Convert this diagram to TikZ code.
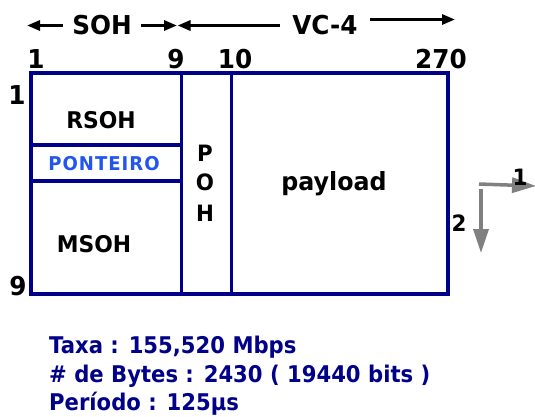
\documentclass[tikz,border=0pt]{standalone}
\usepackage{fontspec}
\setmainfont{DejaVu Sans}
\newfontfamily\infofont{DejaVu Sans}[FakeStretch=0.92]
\newfontfamily\lblfont{DejaVu Sans}[FakeStretch=0.95]
\usetikzlibrary{arrows.meta}
\definecolor{frame}{RGB}{0,0,136}
\definecolor{ptr}{RGB}{34,85,238}
\definecolor{arrgray}{RGB}{128,128,128}
\tikzset{
  frameline/.style={draw=frame,line width=3.4pt},
  lbl/.style={font=\lblfont\bfseries\fontsize{23}{26}\selectfont,text=black,inner sep=0pt,anchor=base},
  hdr/.style={font=\lblfont\bfseries\fontsize{26}{30}\selectfont,text=black,inner sep=0pt,anchor=base},
  small/.style={font=\lblfont\bfseries\fontsize{22.5}{25}\selectfont,text=black,inner sep=0pt,anchor=base},
  toparrow/.style={line width=3pt,-{Triangle[length=13pt,width=10pt]}},
  grayarrow/.style={draw=arrgray,line width=3.5pt,-{Triangle[length=24pt,width=15pt]}},
  info/.style={font=\infofont\bfseries\fontsize{23}{26}\selectfont,text=frame,inner sep=0pt,anchor=base west}
}
\begin{document}
\begin{tikzpicture}[x=1pt,y=-1pt]
\useasboundingbox (0,0) rectangle (535,416);
% frame
\draw[frameline] (31,73) rectangle (448,294);
\draw[frameline] (181.5,73) -- (181.5,294);
\draw[frameline] (231.5,73) -- (231.5,294);
\draw[frameline] (31,145) -- (181.5,145);
\draw[frameline] (31,181) -- (181.5,181);
% cell labels
\node[lbl] (rsoh) at (101,128) {RSOH};
\node[font=\lblfont\bfseries\fontsize{19}{22}\selectfont,text=ptr,inner sep=0pt,anchor=base] (ptr) at (104,170.5) {P\kern1ptO\kern1ptN\kern1ptT\kern1ptE\kern1ptI\kern1ptR\kern1ptO};
\node[lbl] (msoh) at (94,252) {MSOH};
\node[small] (p) at (205,161) {P};
\node[small] (o) at (205,190) {O};
\node[small] (h) at (205,221) {H};
\node[lbl,font=\lblfont\bfseries\fontsize{25}{28}\selectfont] (pay) at (334,190) {payload};
% column/row numbers
\node[hdr] (c1) at (36,68.5) {1};
\node[hdr] (c9) at (176,68.5) {9};
\node[hdr] (c10) at (235,68.5) {10};
\node[hdr] (c270) at (441,68.5) {270};
\node[hdr] (r1) at (17,104) {1};
\node[hdr] (r9) at (18,295) {9};
% header arrows
\node[hdr] (soh) at (102,34) {SOH};
\node[hdr] (vc4) at (325,34) {VC-4};
\coordinate (sl) at (27,25.5);
\coordinate (sr) at (177,25.5);
\coordinate (vl) at (177.5,25.5);
\coordinate (vr) at (455,19.5);
\coordinate (a1) at (63,25.5);
\coordinate (a2) at (141,25.5);
\coordinate (a3) at (280,25.5);
\coordinate (a4) at (370,19.5);
\draw[toparrow] (a1) -- (sl);
\draw[toparrow] (a2) -- (sr);
\draw[toparrow] (a3) -- (vl);
\draw[toparrow] (a4) -- (vr);
% gray direction arrows
\coordinate (gh) at (479,184);
\coordinate (gr) at (536,186);
\coordinate (gv) at (481,189);
\coordinate (gd) at (481,253);
\draw[grayarrow] (gh) -- (gr);
\draw[grayarrow] (gv) -- (gd);
\node[small] (d1) at (520,185) {1};
\node[small] (d2) at (459,231) {2};
% info text
\node[info] (t1) at (49,353) {Taxa : 155,520 Mbps};
\node[info] (t2) at (49,382) {\# de Bytes : 2430 ( 19440 bits )};
\node[info] (t3) at (49,410.5) {Período : 125µs};
\end{tikzpicture}
\end{document}
